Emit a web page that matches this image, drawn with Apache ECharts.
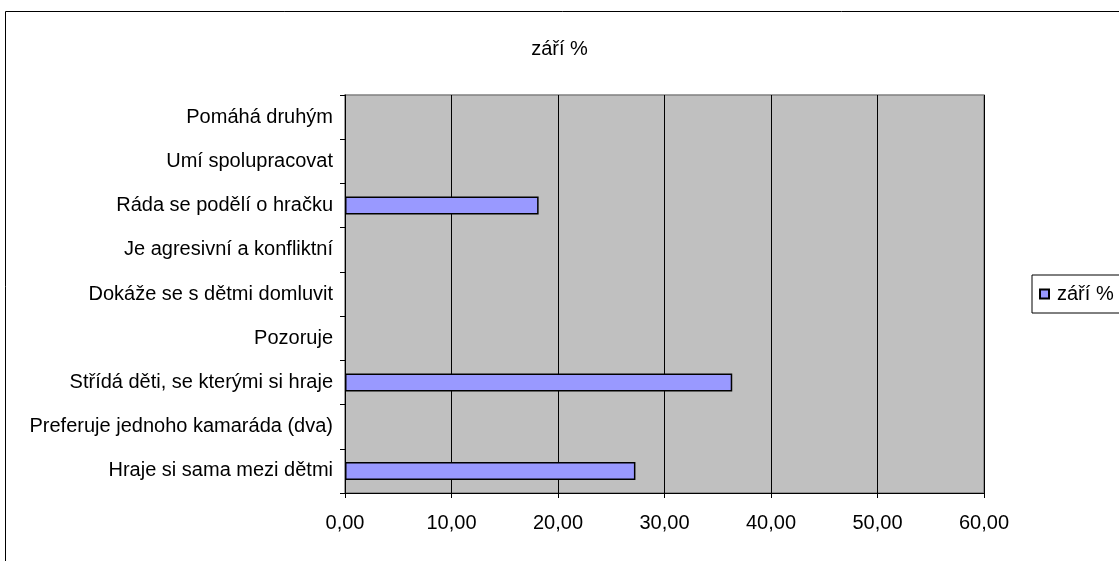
<!DOCTYPE html>
<html lang="cs">
<head>
    <meta charset="UTF-8">
    <title>září %</title>
    <script src="https://cdn.jsdelivr.net/npm/echarts@6/dist/echarts.min.js"></script>
    <style>
        html, body { margin: 0; padding: 0; background: #fff; }
        #chart { width: 1119px; height: 561px; }
    </style>
</head>
<body>
    <div id="chart"></div>
    <script type="text/javascript">
        // categories listed bottom to top (category axis starts at bottom)
        var categories = [
            'Hraje si sama mezi dětmi',
            'Preferuje jednoho kamaráda (dva)',
            'Střídá děti, se kterými si hraje',
            'Pozoruje',
            'Dokáže se s dětmi domluvit',
            'Je agresivní a konfliktní',
            'Ráda se podělí o hračku',
            'Umí spolupracovat',
            'Pomáhá druhým'
        ];
        var values = [27.27, null, 36.36, null, null, null, 18.18, null, null];
        var seriesName = 'září %';
        var xTicks = [0, 10, 20, 30, 40, 50, 60];

        var font = 'Liberation Sans, Arial, sans-serif';
        var myChart = echarts.init(document.getElementById('chart'));
        var option = {
            animation: false,
            textStyle: { fontFamily: font, color: '#000' },
            title: {
                text: seriesName,
                left: 'center',
                top: 34,
                textStyle: { fontFamily: font, fontSize: 20, fontWeight: 'normal', color: '#000' }
            },
            legend: {
                data: [seriesName],
                left: 1032,
                top: 275,
                orient: 'vertical',
                borderColor: '#000',
                borderWidth: 1,
                padding: [9, 12, 9, 7],
                itemWidth: 9,
                itemHeight: 9,
                icon: 'rect',
                textStyle: { fontFamily: font, fontSize: 20, color: '#000', padding: [0, 0, 0, 3] }
            },
            graphic: [{
                type: 'rect',
                shape: { x: 5.5, y: 11.5, width: 1200, height: 600 },
                style: { fill: 'none', stroke: '#000', lineWidth: 1 },
                silent: true
            }],
            grid: {
                left: 345,
                right: 135,
                top: 95,
                bottom: 68,
                show: true,
                backgroundColor: '#c0c0c0',
                borderColor: '#808080',
                borderWidth: 1.5
            },
            xAxis: {
                type: 'value',
                min: xTicks[0],
                max: xTicks[xTicks.length - 1],
                interval: xTicks[1] - xTicks[0],
                axisLine: { show: true, lineStyle: { color: '#000', width: 1 } },
                axisTick: { show: true, length: 5, lineStyle: { color: '#000' } },
                axisLabel: {
                    margin: 20,
                    fontSize: 20,
                    fontFamily: font,
                    color: '#000',
                    formatter: function (v) { return v.toFixed(2).replace('.', ','); }
                },
                splitLine: { show: true, lineStyle: { color: '#000', width: 1 } }
            },
            yAxis: {
                type: 'category',
                data: categories,
                axisLine: { show: true, lineStyle: { color: '#000', width: 1 } },
                axisTick: { show: true, length: 5, lineStyle: { color: '#000' } },
                axisLabel: { margin: 12, fontSize: 20, fontFamily: font, color: '#000' },
                splitLine: { show: false }
            },
            series: [{
                name: seriesName,
                type: 'bar',
                data: values,
                barWidth: 18,
                itemStyle: { color: '#9999ff', borderColor: '#000', borderWidth: 1.5 }
            }]
        };
        myChart.setOption(option);
    </script>
</body>
</html>
